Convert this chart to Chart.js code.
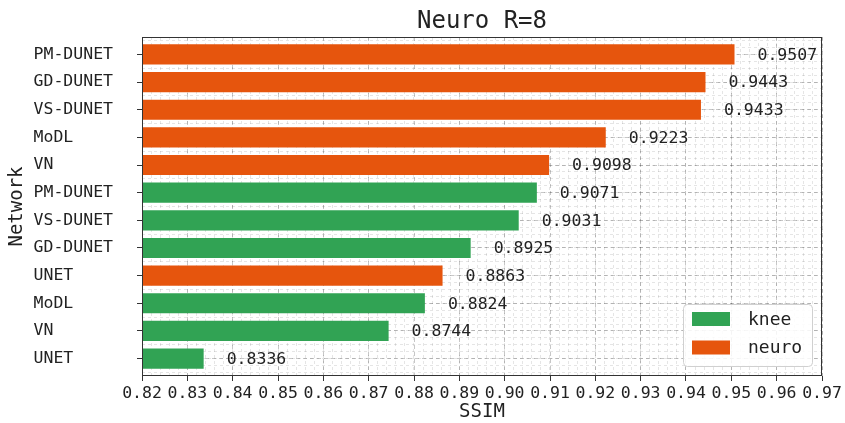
<!DOCTYPE html>
<html>
<head>
<meta charset="utf-8">
<script src="https://cdn.jsdelivr.net/npm/chart.js@4.4.1/dist/chart.umd.min.js"></script>
<style>
html, body { margin: 0; padding: 0; background: #fff; }
</style>
</head>
<body>
<canvas id="chart" width="845" height="423"></canvas>
<script>
// data (top to bottom)
const networks = ['PM-DUNET', 'GD-DUNET', 'VS-DUNET', 'MoDL', 'VN', 'PM-DUNET',
                  'VS-DUNET', 'GD-DUNET', 'UNET', 'MoDL', 'VN', 'UNET'];
const ssim = [0.9507, 0.9443, 0.9433, 0.9223, 0.9098, 0.9071,
              0.9031, 0.8925, 0.8863, 0.8824, 0.8744, 0.8336];
const source = ['neuro', 'neuro', 'neuro', 'neuro', 'neuro', 'knee',
                'knee', 'knee', 'neuro', 'knee', 'knee', 'knee'];
const groups = ['knee', 'neuro'];
const xTickValues = [0.82, 0.83, 0.84, 0.85, 0.86, 0.87, 0.88, 0.89,
                     0.90, 0.91, 0.92, 0.93, 0.94, 0.95, 0.96, 0.97];

const colors = { knee: '#31a354', neuro: '#e6550d' };
const MONO = "'DejaVu Sans Mono', monospace";
const MAJOR_GRID = 'rgba(0,0,0,0.22)';
const MINOR_GRID = 'rgba(0,0,0,0.10)';

const xMin = xTickValues[0];
const xMax = xTickValues[xTickValues.length - 1];
const yMin = -0.63;
const yMax = networks.length - 1 + 0.63;

function minorTicks(lo, hi, step) {
    const out = [];
    const n = Math.round((hi - lo) / step);
    for (let i = 0; i <= n; i++) out.push({ value: lo + i * step });
    return out;
}

const datasets = groups.map(g => ({
    label: g,
    data: ssim.map((v, i) => ({ x: v, y: i })).filter((d, i) => source[i] === g),
    backgroundColor: colors[g],
    borderWidth: 0,
    barPercentage: 0.73,
    categoryPercentage: 1,
    grouped: false,
    xAxisID: 'x',
    yAxisID: 'y'
}));

const extras = {
    id: 'extras',
    afterDatasetsDraw(chart) {
        const { ctx, chartArea: a, scales } = chart;
        const x = scales.x, y = scales.y;
        ctx.save();

        // frame round the plot
        ctx.strokeStyle = '#333';
        ctx.lineWidth = 1;
        ctx.strokeRect(Math.round(a.left) + 0.5, Math.round(a.top) + 0.5,
                       Math.round(a.right - a.left) - 1, Math.round(a.bottom - a.top) - 1);

        // value labels
        ctx.font = '16.5px ' + MONO;
        ctx.fillStyle = '#222';
        ctx.textAlign = 'left';
        ctx.textBaseline = 'middle';
        ssim.forEach((v, i) => {
            ctx.fillText(v.toFixed(4), x.getPixelForValue(v) + 23, y.getPixelForValue(i) + 1);
        });

        // legend box, lower right
        const lw = 129, lh = 62;
        const lx = a.right - 10 - lw, ly = a.bottom - 10 - lh;
        ctx.beginPath();
        ctx.roundRect(lx + 0.5, ly + 0.5, lw, lh, 4);
        ctx.fillStyle = 'rgba(255,255,255,0.85)';
        ctx.fill();
        ctx.strokeStyle = '#d0d0d0';
        ctx.stroke();
        ctx.font = '18px ' + MONO;
        ctx.textBaseline = 'middle';
        groups.forEach((g, k) => {
            const cy = ly + 15 + k * 28.5;
            ctx.fillStyle = colors[g];
            ctx.fillRect(lx + 9, cy - 7, 38, 14);
            ctx.fillStyle = '#222';
            ctx.fillText(g, lx + 65, cy + 1);
        });

        ctx.restore();
    }
};

new Chart(document.getElementById('chart'), {
    type: 'bar',
    data: { datasets: datasets },
    options: {
        indexAxis: 'y',
        responsive: false,
        animation: false,
        devicePixelRatio: 1,
        layout: { padding: { left: 0, right: 23, top: 0, bottom: 0 } },
        plugins: {
            legend: { display: false },
            tooltip: { enabled: false },
            title: { display: false }
        },
        scales: {
            x: {
                type: 'linear',
                position: 'bottom',
                min: xMin,
                max: xMax,
                afterBuildTicks: s => { s.ticks = xTickValues.map(v => ({ value: v })); },
                afterFit: s => { s.height = 47; },
                ticks: {
                    callback: v => v.toFixed(2),
                    autoSkip: false,
                    maxRotation: 0,
                    padding: 3,
                    color: '#222',
                    font: { family: MONO, size: 16.5 }
                },
                grid: { color: MAJOR_GRID, tickColor: '#333', tickLength: 5 },
                border: { display: false, dash: [4, 3] },
                title: {
                    display: true, text: 'SSIM', color: '#222',
                    padding: { top: 0, bottom: 1 },
                    font: { family: MONO, size: 19, lineHeight: 1 }
                }
            },
            xMinorTop: {
                type: 'linear',
                position: 'top',
                min: xMin,
                max: xMax,
                afterBuildTicks: s => { s.ticks = minorTicks(xMin, xMax, 0.002); },
                afterFit: s => { s.height = 37; },
                ticks: { display: false },
                grid: { color: MINOR_GRID, drawTicks: false },
                border: { display: false, dash: [3, 3] },
                title: {
                    display: true, text: 'Neuro R=8', color: '#222',
                    padding: { top: 7, bottom: 0 },
                    font: { family: MONO, size: 24 }
                }
            },
            xMinorBottom: {
                type: 'linear',
                position: 'bottom',
                min: xMin,
                max: xMax,
                afterBuildTicks: s => { s.ticks = minorTicks(xMin, xMax, 0.002); },
                afterFit: s => { s.height = 0; },
                ticks: { display: false },
                grid: { drawOnChartArea: false, tickColor: '#333', tickLength: 2.5 },
                border: { display: false }
            },
            y: {
                type: 'linear',
                position: 'left',
                reverse: true,
                offset: false,
                min: yMin,
                max: yMax,
                afterBuildTicks: s => { s.ticks = networks.map((n, i) => ({ value: i })); },
                afterFit: s => { s.width = 142; },
                ticks: {
                    callback: v => networks[v].padEnd(8),
                    autoSkip: false,
                    padding: 24,
                    color: '#222',
                    font: { family: MONO, size: 16.5 }
                },
                grid: { offset: false, color: MAJOR_GRID, tickColor: '#333', tickLength: 5 },
                border: { display: false, dash: [4, 3] },
                title: {
                    display: true, text: 'Network', color: '#222',
                    padding: { top: 6, bottom: 0 },
                    font: { family: MONO, size: 19 }
                }
            },
            yMinor: {
                type: 'linear',
                position: 'left',
                reverse: true,
                offset: false,
                min: yMin,
                max: yMax,
                afterBuildTicks: s => { s.ticks = minorTicks(-0.5, networks.length - 0.5, 0.25); },
                afterFit: s => { s.width = 0; },
                ticks: { display: false },
                grid: { offset: false, color: MINOR_GRID, tickColor: '#333', tickLength: 2.5 },
                border: { display: false, dash: [3, 3] }
            }
        }
    },
    plugins: [extras]
});
</script>
</body>
</html>
